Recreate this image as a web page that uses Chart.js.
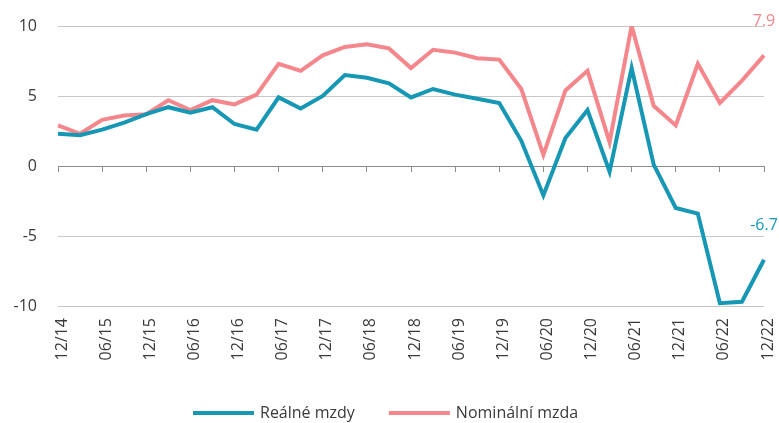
<!DOCTYPE html>
<html>
<head>
<meta charset="utf-8">
<script src="https://cdn.jsdelivr.net/npm/chart.js@4.4.0/dist/chart.umd.min.js"></script>
<style>
  html, body { margin: 0; padding: 0; background: #fff; }
  #wrap { width: 779px; height: 423px; position: relative; }
</style>
</head>
<body>
<div id="wrap"><canvas id="wageChart"></canvas></div>
<script>
const quarters = [
  "12/14", "03/15", "06/15", "09/15", "12/15", "03/16", "06/16", "09/16",
  "12/16", "03/17", "06/17", "09/17", "12/17", "03/18", "06/18", "09/18",
  "12/18", "03/19", "06/19", "09/19", "12/19", "03/20", "06/20", "09/20",
  "12/20", "03/21", "06/21", "09/21", "12/21", "03/22", "06/22", "09/22",
  "12/22",
];
const realWages = [
  2.3, 2.2, 2.6, 3.1, 3.7, 4.2, 3.8, 4.2, 3.0, 2.6, 4.9, 4.1, 5.0, 6.5, 6.3,
  5.9, 4.9, 5.5, 5.1, 4.8, 4.5, 1.8, -2.1, 2.0, 4.0, -0.4, 7.0, 0.1, -3.0,
  -3.4, -9.8, -9.7, -6.7,
];
const nominalWages = [
  2.9, 2.3, 3.3, 3.6, 3.7, 4.7, 4.0, 4.7, 4.4, 5.1, 7.3, 6.8, 7.9, 8.5, 8.7,
  8.4, 7.0, 8.3, 8.1, 7.7, 7.6, 5.5, 0.8, 5.4, 6.8, 1.7, 10.0, 4.3, 2.9, 7.3,
  4.5, 6.1, 7.9,
];
const seriesNames = ["Reálné mzdy", "Nominální mzda"];

const BLUE = "#1697b4";
const PINK = "#f4868c";
const FONT = "'Open Sans', sans-serif";
const TEXT = "#3a3a3a";

// popisek posledni hodnoty nad koncem cary
const endLabels = {
  id: "endLabels",
  afterDatasetsDraw(chart) {
    const ctx = chart.ctx;
    chart.data.datasets.forEach((ds, i) => {
      const pts = chart.getDatasetMeta(i).data;
      const last = pts[pts.length - 1];
      ctx.save();
      ctx.font = `16px ${FONT}`;
      ctx.fillStyle = ds.borderColor;
      ctx.textAlign = "center";
      ctx.textBaseline = "middle";
      ctx.fillText(ds.data[ds.data.length - 1].toFixed(1), last.x, last.y - 34);
      ctx.restore();
    });
  },
};

// legenda dole (vlastni, kvuli rozestupum)
const bottomLegend = {
  id: "bottomLegend",
  afterDraw(chart) {
    const ctx = chart.ctx;
    const y = 413;
    let x = 193;
    ctx.save();
    ctx.font = `16px ${FONT}`;
    ctx.textBaseline = "middle";
    chart.data.datasets.forEach((ds) => {
      ctx.strokeStyle = ds.borderColor;
      ctx.lineWidth = 4;
      ctx.beginPath();
      ctx.moveTo(x, y);
      ctx.lineTo(x + 61, y);
      ctx.stroke();
      ctx.fillStyle = TEXT;
      ctx.fillText(ds.label, x + 67, y);
      x += 67 + ctx.measureText(ds.label).width + 34;
    });
    ctx.restore();
  },
};

const ctx = document.getElementById("wageChart").getContext("2d");
new Chart(ctx, {
  type: "line",
  data: {
    labels: quarters,
    datasets: [
      {
        label: seriesNames[0],
        data: realWages,
        borderColor: BLUE,
        backgroundColor: BLUE,
        borderWidth: 4,
        pointRadius: 0,
        tension: 0,
      },
      {
        label: seriesNames[1],
        data: nominalWages,
        borderColor: PINK,
        backgroundColor: PINK,
        borderWidth: 4,
        pointRadius: 0,
        tension: 0,
      },
    ],
  },
  options: {
    responsive: true,
    maintainAspectRatio: false,
    animation: false,
    layout: { padding: { top: 26, right: 15, left: 0, bottom: 0 } },
    plugins: { legend: { display: false }, tooltip: { enabled: false } },
    scales: {
      x: {
        offset: false,
        grid: { display: false, drawTicks: false },
        border: { display: false },
        ticks: {
          autoSkip: false,
          minRotation: 90,
          maxRotation: 90,
          padding: 12,
          labelOffset: 4,
          color: TEXT,
          font: { family: FONT, size: 16 },
          callback: function (v, i) {
            return i % 2 === 0 ? this.getLabelForValue(v) : null;
          },
        },
        afterFit: (s) => {
          s.height = 117;
          s.paddingLeft = 0;
          s.paddingRight = 0;
        },
      },
      x2: {
        type: "category",
        position: { y: 0 },
        offset: false,
        grid: {
          drawOnChartArea: false,
          drawTicks: true,
          tickLength: 6,
          color: "#8c8c8c",
        },
        border: { display: false },
        ticks: {
          autoSkip: false,
          maxRotation: 0,
          font: { size: 1 },
          callback: (v, i) => (i % 2 === 0 ? "" : null),
        },
        afterFit: (s) => {
          s.paddingLeft = 0;
          s.paddingRight = 0;
        },
      },
      y: {
        min: -10,
        max: 10,
        grid: {
          drawTicks: false,
          color: (c) => (c.tick && c.tick.value === 0 ? "#8c8c8c" : "#c8c8c8"),
        },
        border: { display: false },
        ticks: {
          stepSize: 5,
          padding: 21,
          color: TEXT,
          font: { family: FONT, size: 16 },
        },
        afterFit: (s) => {
          s.width = 58;
          s.paddingTop = 0;
          s.paddingBottom = 0;
        },
      },
    },
  },
  plugins: [endLabels, bottomLegend],
});
</script>
</body>
</html>
